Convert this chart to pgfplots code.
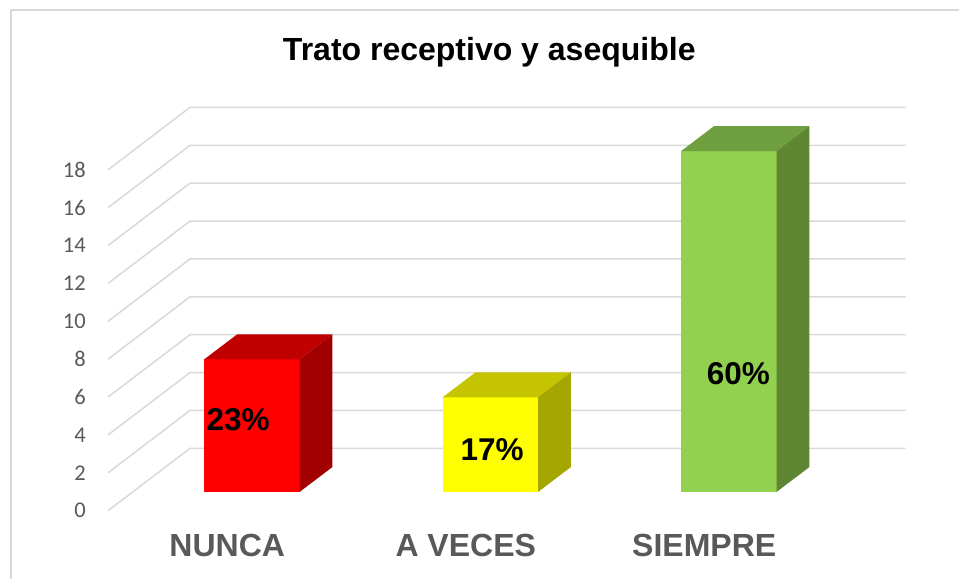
\documentclass[border=0pt]{standalone}
\usepackage{pgfplots}
\pgfplotsset{compat=1.18}
\usepackage{fontspec}
\setmainfont{Liberation Sans}
\newfontfamily\carl{Carlito}
\definecolor{gridc}{HTML}{D9D9D9}
\definecolor{labc}{HTML}{595959}
\definecolor{rF}{HTML}{FF0000}
\definecolor{rT}{HTML}{C00000}
\definecolor{rS}{HTML}{A20000}
\definecolor{yF}{HTML}{FFFF00}
\definecolor{yT}{HTML}{C4C400}
\definecolor{yS}{HTML}{A6A600}
\definecolor{gF}{HTML}{92D050}
\definecolor{gT}{HTML}{6F9F3E}
\definecolor{gS}{HTML}{5F8632}
% 3D bar: #1 category index, #2 value, #3 front, #4 top, #5 side
\newcommand{\threedbar}[5]{%
  \pgfmathsetmacro{\xa}{#1-0.097}%
  \pgfmathsetmacro{\xb}{#1+0.303}%
  \pgfmathsetmacro{\xc}{#1-0.097+0.138}%
  \pgfmathsetmacro{\xd}{#1+0.303+0.138}%
  \pgfmathsetmacro{\ya}{0.988}%
  \pgfmathsetmacro{\yb}{#2+0.988}%
  \pgfmathsetmacro{\yc}{0.988+1.318}%
  \pgfmathsetmacro{\yd}{#2+0.988+1.318}%
  \edef\doplot{%
    \noexpand\addplot[fill=#3, draw=none, forget plot] coordinates {(\xa,\ya) (\xb,\ya) (\xb,\yb) (\xa,\yb)} -- cycle;
    \noexpand\addplot[fill=#4, draw=none, forget plot] coordinates {(\xa,\yb) (\xb,\yb) (\xd,\yd) (\xc,\yd)} -- cycle;
    \noexpand\addplot[fill=#5, draw=none, forget plot] coordinates {(\xb,\ya) (\xd,\yc) (\xd,\yd) (\xb,\yb)} -- cycle;
  }%
  \doplot
}
\begin{document}
\begin{tikzpicture}
\path[use as bounding box] (0,0) rectangle (959bp,579bp);
\draw[gridc, line width=2bp] (11bp,0) -- (11bp,569bp) -- (959bp,569bp);
\begin{axis}[
  at={(108bp,68.3bp)}, anchor=south west,
  scale only axis, width=715.5bp, height=403.4bp,
  xmin=-0.5, xmax=2.5, ymin=0, ymax=21.3,
  clip=false,
  axis x line*=bottom, axis y line*=left,
  axis line style={draw=none}, tick style={draw=none},
  xtick={0,1,2}, xticklabels={NUNCA, A VECES, SIEMPRE},
  xticklabel style={anchor=center, yshift=-34.8bp, text=labc,
    font=\fontsize{32bp}{32bp}\selectfont\bfseries},
  ytick={0,2,...,18},
  /pgf/number format/assume math mode=true,
  yticklabel style={anchor=east, inner sep=0pt, xshift=-22bp, text=labc,
    font=\carl\fontsize{22.5bp}{22.5bp}\selectfont},
  title={Trato receptivo y asequible},
  title style={at={(axis cs:1.0986,23.45)}, anchor=base,
    font=\fontsize{32bp}{32bp}\selectfont\bfseries},
]
% gridlines: front-left diagonal then back wall
\addplot[gridc, line width=1.5bp, forget plot] coordinates {(-0.5,0) (-0.156,3.295) (2.844,3.295)};
\addplot[gridc, line width=1.5bp, forget plot] coordinates {(-0.5,2) (-0.156,5.295) (2.844,5.295)};
\addplot[gridc, line width=1.5bp, forget plot] coordinates {(-0.5,4) (-0.156,7.295) (2.844,7.295)};
\addplot[gridc, line width=1.5bp, forget plot] coordinates {(-0.5,6) (-0.156,9.295) (2.844,9.295)};
\addplot[gridc, line width=1.5bp, forget plot] coordinates {(-0.5,8) (-0.156,11.295) (2.844,11.295)};
\addplot[gridc, line width=1.5bp, forget plot] coordinates {(-0.5,10) (-0.156,13.295) (2.844,13.295)};
\addplot[gridc, line width=1.5bp, forget plot] coordinates {(-0.5,12) (-0.156,15.295) (2.844,15.295)};
\addplot[gridc, line width=1.5bp, forget plot] coordinates {(-0.5,14) (-0.156,17.295) (2.844,17.295)};
\addplot[gridc, line width=1.5bp, forget plot] coordinates {(-0.5,16) (-0.156,19.295) (2.844,19.295)};
\addplot[gridc, line width=1.5bp, forget plot] coordinates {(-0.5,18) (-0.156,21.295) (2.844,21.295)};
% bars: NUNCA 7, A VECES 5, SIEMPRE 18
\threedbar{0}{7}{rF}{rT}{rS}
\threedbar{1}{5}{yF}{yT}{yS}
\threedbar{2}{18}{gF}{gT}{gS}
\node[font=\fontsize{31.5bp}{31.5bp}\selectfont\bfseries] at (axis cs:0.046,4.79) {23\%};
\node[font=\fontsize{31.5bp}{31.5bp}\selectfont\bfseries] at (axis cs:1.111,3.20) {17\%};
\node[font=\fontsize{31.5bp}{31.5bp}\selectfont\bfseries] at (axis cs:2.143,7.24) {60\%};
\end{axis}
\end{tikzpicture}
\end{document}
